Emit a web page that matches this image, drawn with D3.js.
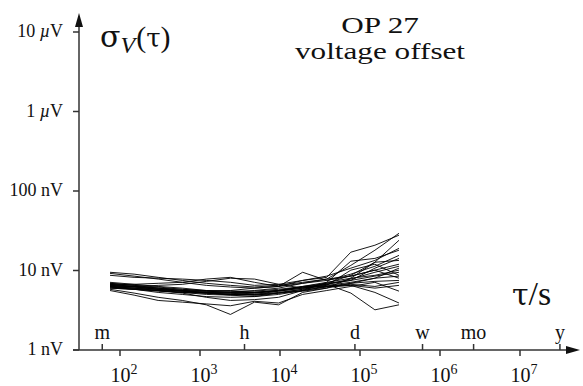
<!DOCTYPE html>
<html>
<head>
<meta charset="utf-8">
<script src="https://cdn.jsdelivr.net/npm/d3@7"></script>
<style>
  html, body { margin: 0; padding: 0; background: #fff; }
  svg { display: block; }
</style>
</head>
<body>
<div id="chart"></div>
<script>
// averaging times (s)
const tau = [75, 150, 300, 600, 1200, 2400, 4800, 9600, 19200, 38400, 76800, 153600, 307200]

// Allan deviation of the offset voltage, one run per array (nV)
const runs = [
  [9.5, 9.0, 8.2, 7.5, 6.9, 6.5, 6.2, 6.5, 7.1, 7.8, 8.5, 10.1, 12.0],
  [9.2, 8.5, 7.8, 7.1, 6.5, 6.2, 6.0, 6.3, 6.9, 7.5, 9.0, 11.3, 15.5],
  [8.7, 8.2, 8.0, 7.8, 7.5, 7.1, 6.5, 6.7, 7.5, 8.5, 10.7, 13.4, 19.0],
  [7.1, 6.7, 6.3, 6.0, 5.6, 5.5, 5.5, 5.8, 6.3, 6.9, 7.5, 8.5, 9.5],
  [6.9, 6.5, 6.2, 5.8, 5.5, 5.3, 5.3, 5.6, 6.2, 6.7, 7.8, 9.5, 11.3],
  [6.7, 6.3, 6.0, 5.6, 5.3, 5.2, 5.3, 5.6, 6.3, 7.1, 8.0, 8.7, 10.1],
  [6.5, 6.2, 5.8, 5.5, 5.3, 5.2, 5.2, 5.5, 6.0, 6.5, 7.1, 8.0, 8.5],
  [6.3, 6.0, 5.6, 5.5, 5.2, 5.0, 5.2, 5.6, 6.2, 6.7, 7.5, 10.7, 14.2],
  [6.2, 5.8, 5.6, 5.3, 5.2, 5.0, 5.0, 5.3, 5.8, 6.3, 6.9, 7.3, 7.5],
  [6.0, 5.8, 5.5, 5.3, 5.0, 4.9, 5.0, 5.5, 6.0, 6.9, 8.7, 12.7, 24.0],
  [6.9, 6.5, 6.0, 5.6, 5.5, 5.3, 5.6, 6.0, 6.9, 7.8, 11.6, 18.0, 29.4],
  [6.7, 6.3, 5.8, 5.5, 5.3, 5.2, 4.9, 5.2, 5.6, 6.2, 6.5, 5.3, 3.9],
  [6.5, 6.2, 5.8, 5.6, 5.5, 5.6, 6.0, 6.3, 7.5, 8.2, 17.0, 20.8, 27.8],
  [6.3, 6.0, 5.6, 5.3, 5.2, 4.9, 4.7, 5.0, 5.6, 6.3, 6.7, 6.3, 7.1],
  [6.2, 6.0, 5.8, 5.5, 5.2, 5.0, 4.9, 5.2, 5.8, 6.7, 5.2, 3.2, 3.7],
  [5.6, 4.9, 4.2, 4.0, 3.8, 3.6, 4.1, 3.9, 5.0, 5.6, 6.3, 7.1, 5.5],
  [5.8, 5.2, 4.6, 4.2, 3.7, 2.8, 4.0, 3.7, 5.3, 6.0, 8.0, 12.7, 13.4],
  [6.7, 6.7, 6.9, 7.1, 7.8, 8.2, 7.1, 6.3, 9.5, 7.5, 8.5, 10.1, 8.0],
  [6.3, 6.3, 6.5, 6.7, 7.3, 8.0, 7.8, 6.7, 6.0, 6.5, 10.1, 12.0, 8.7],
  [6.0, 5.8, 5.6, 5.2, 4.6, 4.2, 4.3, 4.6, 5.6, 7.1, 13.1, 14.2, 18.0],
  [6.5, 6.3, 6.0, 5.8, 5.6, 5.5, 5.3, 5.6, 6.2, 6.3, 6.5, 6.0, 6.5],
  [6.2, 5.8, 5.3, 5.0, 4.7, 4.6, 4.7, 5.2, 5.5, 6.0, 6.9, 8.0, 10.7]
]

// y ticks (nV) and their labels
const yTicks = [1, 10, 100, 1000, 10000]
const yTickNum = ['1', '10', '100', '1', '10']
const yTickUnit = ['nV', 'nV', 'nV', 'µV', 'µV']

// decade ticks on the time axis
const xTicks = [1e2, 1e3, 1e4, 1e5, 1e6, 1e7]
const xTickExp = ['2', '3', '4', '5', '6', '7']

// calendar marks: minute, hour, day, week, month, year
const timeNames = ['m', 'h', 'd', 'w', 'mo', 'y']
const timeSecs = [60, 3600, 86400, 604800, 2629800, 31557600]

const width = 583
const height = 386
const serif = 'Liberation Serif, Times New Roman, serif'
const greek = 'DejaVu Serif, serif'
const axisColor = '#333'
const ink = '#111'

const svg = d3.select('#chart')
  .append('svg')
  .attr('width', width)
  .attr('height', height)

const x = d3.scaleLog().domain([1e2, 1e7]).range([120, 520])
const y = d3.scaleLog().domain([1, 1e4]).range([350, 32])

const x0 = 79    // y axis position
const y0 = 350   // x axis position

// data lines
const line = d3.line()
  .x((d, i) => x(tau[i]))
  .y((d) => y(d))

svg.append('g')
  .selectAll('path')
  .data(runs)
  .join('path')
  .attr('d', line)
  .attr('fill', 'none')
  .attr('stroke', '#000')
  .attr('stroke-width', 0.9)

// axes
svg.append('line')
  .attr('x1', x0).attr('x2', x0)
  .attr('y1', y0).attr('y2', 24)
  .attr('stroke', axisColor)
  .attr('stroke-width', 1.5)

svg.append('path')
  .attr('d', `M${x0},13L${x0 - 4},27L${x0 + 4},27Z`)
  .attr('fill', ink)

svg.append('line')
  .attr('x1', 73).attr('x2', 570)
  .attr('y1', y0).attr('y2', y0)
  .attr('stroke', axisColor)
  .attr('stroke-width', 1.5)

svg.append('path')
  .attr('d', `M580,${y0}L566,${y0 - 4}L566,${y0 + 4}Z`)
  .attr('fill', ink)

// y ticks and labels
const yt = svg.append('g')
  .selectAll('g')
  .data(yTicks)
  .join('g')
  .attr('transform', (d) => `translate(0,${y(d)})`)

yt.append('line')
  .attr('x1', x0 - 6).attr('x2', x0)
  .attr('stroke', axisColor)
  .attr('stroke-width', 1.5)

const ytText = yt.append('text')
  .attr('x', 63)
  .attr('y', 5)
  .attr('text-anchor', 'end')
  .attr('font-family', serif)
  .attr('font-size', 18)
  .attr('fill', ink)

ytText.append('tspan').text((d, i) => yTickNum[i] + ' ')
ytText.append('tspan')
  .attr('font-style', (d, i) => (yTickUnit[i][0] === 'µ' ? 'italic' : null))
  .text((d, i) => yTickUnit[i][0])
ytText.append('tspan').text((d, i) => yTickUnit[i].slice(1))

// decade ticks below the axis
const xt = svg.append('g')
  .selectAll('g')
  .data(xTicks)
  .join('g')
  .attr('transform', (d) => `translate(${x(d)},${y0})`)

xt.append('line')
  .attr('y1', 0).attr('y2', 6)
  .attr('stroke', axisColor)
  .attr('stroke-width', 1.5)

const xtText = xt.append('text')
  .attr('x', 4)
  .attr('y', 32)
  .attr('text-anchor', 'middle')
  .attr('font-family', serif)
  .attr('font-size', 20)
  .attr('fill', ink)

xtText.append('tspan').text('10')
xtText.append('tspan')
  .attr('font-size', 14)
  .attr('dy', -8)
  .text((d, i) => xTickExp[i])

// calendar ticks above the axis
const tm = svg.append('g')
  .selectAll('g')
  .data(timeSecs)
  .join('g')
  .attr('transform', (d) => `translate(${x(d)},${y0})`)

tm.append('line')
  .attr('y1', 0).attr('y2', -6)
  .attr('stroke', axisColor)
  .attr('stroke-width', 1.5)

tm.append('text')
  .attr('y', -11)
  .attr('text-anchor', 'middle')
  .attr('font-family', serif)
  .attr('font-size', 20)
  .attr('fill', ink)
  .text((d, i) => timeNames[i])

// axis titles
const yTitle = svg.append('text')
  .attr('x', 100)
  .attr('y', 47)
  .attr('font-family', serif)
  .attr('font-size', 30)
  .attr('fill', ink)

yTitle.append('tspan').attr('font-family', greek).text('σ')
yTitle.append('tspan')
  .attr('font-style', 'italic')
  .attr('font-size', 24)
  .attr('dy', 6)
  .text('V')
yTitle.append('tspan')
  .attr('dy', -6)
  .attr('dx', 1)
  .text('(')
yTitle.append('tspan').attr('font-family', greek).attr('font-size', 26).text('τ')
yTitle.append('tspan').text(')')

const xTitle = svg.append('text')
  .attr('x', 512)
  .attr('y', 305)
  .attr('font-family', serif)
  .attr('font-size', 34)
  .attr('fill', ink)

xTitle.append('tspan').attr('font-family', greek).attr('font-size', 30).text('τ')
xTitle.append('tspan').text('/s')

// chart title
const title = svg.append('g')
  .attr('transform', 'translate(380,0) scale(1.3,1)')

title.append('text')
  .attr('y', 33)
  .attr('text-anchor', 'middle')
  .attr('font-family', serif)
  .attr('font-size', 24)
  .attr('fill', ink)
  .text('OP 27')

title.append('text')
  .attr('y', 59)
  .attr('text-anchor', 'middle')
  .attr('font-family', serif)
  .attr('font-size', 24)
  .attr('fill', ink)
  .text('voltage offset')
</script>
</body>
</html>
